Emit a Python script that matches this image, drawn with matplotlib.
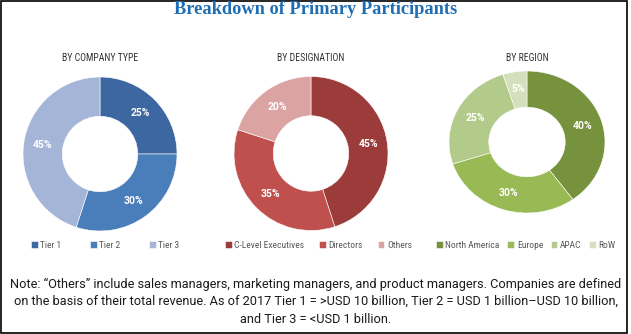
import matplotlib.pyplot as plt
from matplotlib.patches import Rectangle
from matplotlib import font_manager

# figure is 631 x 334 px
W, H = 631, 334

title = "Breakdown of Primary Participants"

company_labels = ["Tier 1", "Tier 2", "Tier 3"]
company_shares = [25, 30, 45]
company_colors = ["#3c67a0", "#4a7ebb", "#a5b5d8"]

designation_labels = ["C-Level Executives", "Directors", "Others"]
designation_shares = [45, 35, 20]
designation_colors = ["#9c3c3a", "#c0504d", "#dba3a2"]

region_labels = ["North America", "Europe", "APAC", "RoW"]
region_shares = [40, 30, 25, 5]
region_colors = ["#77923c", "#98b954", "#b3cb8a", "#d4e0bd"]

note = ("Note: \u201cOthers\u201d include sales managers, marketing managers, and product managers. "
        "Companies are defined\non the basis of their total revenue. As of 2017 Tier 1 = >USD 10 billion, "
        "Tier 2 = USD 1 billion\u2013USD 10 billion,\nand Tier 3 = <USD 1 billion.")

# pick the narrowest sans available
installed = {f.name for f in font_manager.fontManager.ttflist}
NARROW = next(n for n in ["Liberation Sans Narrow", "Roboto Condensed", "Open Sans Condensed",
                          "Roboto", "Liberation Sans", "DejaVu Sans"] if n in installed)
PLAIN = "Roboto" if "Roboto" in installed else "DejaVu Sans"


def px_axes(fig, cx, cy, rx, ry):
    # axes box in pixel units (origin top-left), radius 1 fills the box
    return fig.add_axes([(cx - rx) / W, 1 - (cy + ry) / H, 2 * rx / W, 2 * ry / H])


def donut(fig, cx, cy, rx, ry, shares, colors, labels, subtitle, leg_x, colspace):
    ax = px_axes(fig, cx, cy, rx, ry)
    wedges, _, autotexts = ax.pie(
        shares, colors=colors, startangle=90, counterclock=False,
        autopct="%d%%", pctdistance=0.75, radius=1,
        wedgeprops=dict(width=0.51, edgecolor="white", linewidth=0.4),
        textprops=dict(color="white", fontsize=7.5, fontweight="bold", family=PLAIN))
    ax.set_aspect("auto")
    ax.set_xlim(-1, 1)
    ax.set_ylim(-1, 1)
    fig.text(cx / W, 1 - 58 / H, subtitle, ha="center", va="center",
             fontsize=7, color="#333333", family=NARROW)
    fig.legend(wedges, labels, loc="center left", bbox_to_anchor=(leg_x / W, 1 - 245 / H),
               ncol=len(labels), frameon=False, handlelength=0.7, handleheight=0.7,
               handletextpad=0.3, columnspacing=colspace, borderaxespad=0, borderpad=0,
               prop=dict(family=NARROW, size=6.8), labelcolor="#595959")
    return ax


fig = plt.figure(figsize=(W / 100, H / 100), dpi=100)

fig.text(0.5, 1 - 10 / H, title, ha="center", va="center", fontsize=13.2,
         fontweight="bold", color="#1f6eb4", family="Liberation Serif")

donut(fig, 100, 154, 77, 77, company_shares, company_colors, company_labels,
      "BY COMPANY TYPE", 31, 3.0)
donut(fig, 311, 153.5, 77, 77, designation_shares, designation_colors, designation_labels,
      "BY DESIGNATION", 225, 1.55)
donut(fig, 527, 142, 78, 71, region_shares, region_colors, region_labels,
      "BY REGION", 436, 0.8)

fig.text(0.5, 1 - 301.5 / H, note, ha="center", va="center", fontsize=9.2,
         color="#1a1a1a", family=PLAIN, linespacing=1.45)

fig.patches.append(Rectangle((0.5 / W, 0.8 / H), 626.5 / W, 332.7 / H, transform=fig.transFigure,
                             fill=False, edgecolor="black", linewidth=1.2))

fig.savefig("out.png", dpi=100)
